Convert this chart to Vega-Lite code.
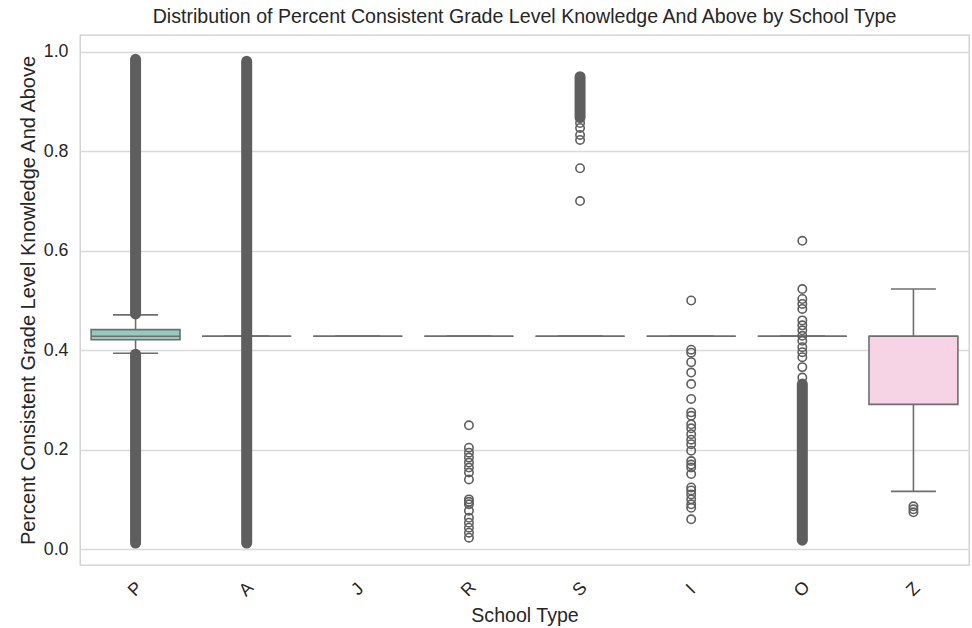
{
  "$schema": "https://vega.github.io/schema/vega-lite/v6.json",
  "autosize": {"type": "none"},
  "width": 889,
  "height": 530,
  "padding": {"left": 80, "top": 35, "right": 3, "bottom": 63},
  "background": "white",
  "config": {
    "font": "Liberation Sans",
    "view": {"stroke": "#cccccc", "strokeWidth": 1.3},
    "axis": {"labelColor": "#262626", "titleColor": "#262626", "labelFont": "Liberation Sans", "titleFont": "Liberation Sans", "titleFontWeight": "normal"}
  },
  "title": {"text": "Distribution of Percent Consistent Grade Level Knowledge And Above by School Type", "fontSize": 19.6, "fontWeight": "normal", "color": "#262626", "font": "Liberation Sans", "offset": 7},
  "datasets": {
    "stats": [
      {"cat": "P", "lw": 0.394, "q1": 0.421, "med": 0.428, "q3": 0.4415, "uw": 0.471},
      {"cat": "A", "lw": 0.428, "q1": 0.428, "med": 0.428, "q3": 0.428, "uw": 0.428},
      {"cat": "J", "lw": 0.428, "q1": 0.428, "med": 0.428, "q3": 0.428, "uw": 0.428},
      {"cat": "R", "lw": 0.428, "q1": 0.428, "med": 0.428, "q3": 0.428, "uw": 0.428},
      {"cat": "S", "lw": 0.428, "q1": 0.428, "med": 0.428, "q3": 0.428, "uw": 0.428},
      {"cat": "I", "lw": 0.428, "q1": 0.428, "med": 0.428, "q3": 0.428, "uw": 0.428},
      {"cat": "O", "lw": 0.428, "q1": 0.428, "med": 0.428, "q3": 0.428, "uw": 0.428},
      {"cat": "Z", "lw": 0.116, "q1": 0.291, "med": 0.428, "q3": 0.428, "uw": 0.523}
    ],
    "dense": [
      {"cat": "P", "lo": 0.473, "hi": 0.985},
      {"cat": "P", "lo": 0.012, "hi": 0.392},
      {"cat": "A", "lo": 0.012, "hi": 0.981},
      {"cat": "S", "lo": 0.868, "hi": 0.950},
      {"cat": "O", "lo": 0.018, "hi": 0.332}
    ],
    "outliers": [
      {"cat": "R", "v": 0.249}, {"cat": "R", "v": 0.204}, {"cat": "R", "v": 0.194}, {"cat": "R", "v": 0.184}, {"cat": "R", "v": 0.174}, {"cat": "R", "v": 0.164}, {"cat": "R", "v": 0.154}, {"cat": "R", "v": 0.14}, {"cat": "R", "v": 0.1}, {"cat": "R", "v": 0.095}, {"cat": "R", "v": 0.09}, {"cat": "R", "v": 0.077}, {"cat": "R", "v": 0.063}, {"cat": "R", "v": 0.053}, {"cat": "R", "v": 0.043}, {"cat": "R", "v": 0.033}, {"cat": "R", "v": 0.023},
      {"cat": "S", "v": 0.7}, {"cat": "S", "v": 0.766}, {"cat": "S", "v": 0.823}, {"cat": "S", "v": 0.833}, {"cat": "S", "v": 0.847}, {"cat": "S", "v": 0.857},
      {"cat": "I", "v": 0.5}, {"cat": "I", "v": 0.401}, {"cat": "I", "v": 0.395}, {"cat": "I", "v": 0.376}, {"cat": "I", "v": 0.355}, {"cat": "I", "v": 0.332}, {"cat": "I", "v": 0.302}, {"cat": "I", "v": 0.275}, {"cat": "I", "v": 0.268}, {"cat": "I", "v": 0.251}, {"cat": "I", "v": 0.243}, {"cat": "I", "v": 0.231}, {"cat": "I", "v": 0.22}, {"cat": "I", "v": 0.211}, {"cat": "I", "v": 0.198}, {"cat": "I", "v": 0.177}, {"cat": "I", "v": 0.17}, {"cat": "I", "v": 0.164}, {"cat": "I", "v": 0.151}, {"cat": "I", "v": 0.124}, {"cat": "I", "v": 0.118}, {"cat": "I", "v": 0.11}, {"cat": "I", "v": 0.1}, {"cat": "I", "v": 0.09}, {"cat": "I", "v": 0.083}, {"cat": "I", "v": 0.06},
      {"cat": "O", "v": 0.62}, {"cat": "O", "v": 0.523}, {"cat": "O", "v": 0.503}, {"cat": "O", "v": 0.493}, {"cat": "O", "v": 0.483}, {"cat": "O", "v": 0.46}, {"cat": "O", "v": 0.45}, {"cat": "O", "v": 0.44}, {"cat": "O", "v": 0.429}, {"cat": "O", "v": 0.419}, {"cat": "O", "v": 0.406}, {"cat": "O", "v": 0.396}, {"cat": "O", "v": 0.386}, {"cat": "O", "v": 0.366}, {"cat": "O", "v": 0.345},
      {"cat": "Z", "v": 0.086}, {"cat": "Z", "v": 0.08}, {"cat": "Z", "v": 0.074}
    ]
  },
  "encoding": {
    "x": {
      "field": "cat", "type": "nominal", "title": "School Type",
      "scale": {"domain": ["P", "A", "J", "R", "S", "I", "O", "Z"], "paddingInner": 0, "paddingOuter": 0},
      "axis": {"labelAngle": -45, "labelAlign": "center", "labelBaseline": "middle", "labelPadding": 24, "ticks": false, "tickSize": 0, "domain": false, "grid": false, "labelFontSize": 17.8, "titleFontSize": 19.6, "titlePadding": 6}
    }
  },
  "layer": [
    {
      "data": {"name": "stats"},
      "mark": {"type": "rule", "color": "#6e6e6e", "strokeWidth": 1.6},
      "encoding": {
        "y": {"field": "lw", "type": "quantitative", "title": "Percent Consistent Grade Level Knowledge And Above",
          "scale": {"domain": [-0.032, 1.034], "nice": false, "zero": false},
          "axis": {"values": [0, 0.2, 0.4, 0.6, 0.8, 1.0], "format": ".1f", "ticks": false, "tickSize": 0, "domain": false, "gridColor": "#d9d9d9", "gridWidth": 1.3, "labelFontSize": 17.8, "labelPadding": 12, "titleFontSize": 20, "titlePadding": 5}},
        "y2": {"field": "uw"}
      }
    },
    {
      "data": {"name": "stats"},
      "mark": {"type": "bar", "width": {"band": 0.8}, "stroke": "#6e6e6e", "strokeWidth": 1.6},
      "encoding": {
        "y": {"field": "q1", "type": "quantitative"},
        "y2": {"field": "q3"},
        "fill": {"field": "cat", "type": "nominal", "legend": null,
          "scale": {"domain": ["P", "A", "J", "R", "S", "I", "O", "Z"], "range": ["#96cac1", "#f6f6c0", "#c3c0d6", "#ee8c82", "#8cb1ca", "#f0b873", "#b5d47c", "#f6d3e5"]}}
      }
    },
    {
      "data": {"name": "stats"},
      "mark": {"type": "tick", "color": "#6e6e6e", "size": 89, "thickness": 1.6, "opacity": 1},
      "encoding": {"y": {"field": "med", "type": "quantitative"}}
    },
    {
      "data": {"name": "stats"},
      "mark": {"type": "tick", "color": "#6e6e6e", "size": 45, "thickness": 1.6, "opacity": 1},
      "encoding": {"y": {"field": "lw", "type": "quantitative"}}
    },
    {
      "data": {"name": "stats"},
      "mark": {"type": "tick", "color": "#6e6e6e", "size": 45, "thickness": 1.6, "opacity": 1},
      "encoding": {"y": {"field": "uw", "type": "quantitative"}}
    },
    {
      "data": {"name": "dense"},
      "mark": {"type": "rule", "color": "#5e5e5e", "strokeWidth": 11, "strokeCap": "round"},
      "encoding": {"y": {"field": "lo", "type": "quantitative"}, "y2": {"field": "hi"}}
    },
    {
      "data": {"name": "outliers"},
      "mark": {"type": "point", "shape": "circle", "filled": false, "stroke": "#5e5e5e", "strokeWidth": 1.6, "size": 70, "opacity": 1},
      "encoding": {"y": {"field": "v", "type": "quantitative"}}
    }
  ]
}
